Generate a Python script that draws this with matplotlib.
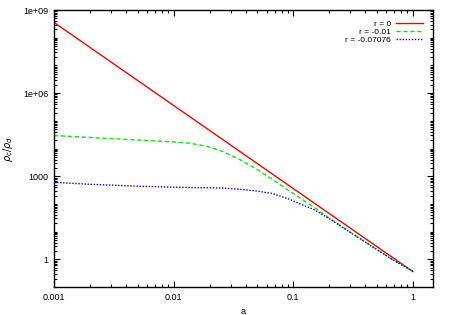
import matplotlib
matplotlib.use("Agg")
import matplotlib.pyplot as plt
from matplotlib.ticker import LogLocator, FixedLocator, NullFormatter, FixedFormatter
import numpy as np

plt.rcParams['font.family'] = ['Liberation Sans', 'DejaVu Sans']

# Data
a_red = [0.001, 0.01, 0.1, 1.0]
rho_red = [3.6e8, 3.6e5, 360.0, 0.36]

a_grid = [0.001, 0.002, 0.005, 0.01, 0.0136, 0.0187, 0.0258, 0.0355, 0.0489,
          0.0672, 0.0927, 0.112, 0.15, 0.2, 0.3, 0.5, 0.7, 1.0]
log_green = [4.47, 4.40, 4.31, 4.24, 4.193, 4.09, 3.89, 3.61, 3.27,
             2.881, 2.469, 2.24, 1.87, 1.49, 0.98, 0.35, -0.05, -0.43]
log_blue = [2.78, 2.71, 2.64, 2.605, 2.592, 2.585, 2.572, 2.531, 2.469,
            2.375, 2.17, 2.014, 1.79, 1.47, 0.97, 0.35, -0.05, -0.43]
rho_green = [10 ** v for v in log_green]
rho_blue = [10 ** v for v in log_blue]

labels = ["r = 0", "r = -0.01", "r = -0.07076"]
xticks = [0.001, 0.01, 0.1, 1]
xticklabels = ["0.001", "0.01", "0.1", "1"]
yticks = [1, 1e3, 1e6, 1e9]
yticklabels = ["1", "1000", "1e+06", "1e+09"]

fig = plt.figure(figsize=(4.5, 3.15), dpi=100)
ax = fig.add_axes([0.12, 0.0889, 0.842, 0.879])

ax.plot(a_red, rho_red, color='#ff0000', lw=1.0, label=labels[0])
ax.plot(a_grid, rho_green, color='#00ee00', lw=1.0, ls=(0, (3, 2)), label=labels[1])
ax.plot(a_grid, rho_blue, color='#0000ff', lw=1.0, ls=(0, (1, 1.2)), label=labels[2])

ax.set_xscale('log')
ax.set_yscale('log')
ax.set_xlim(0.001, 1.47)
ax.set_ylim(0.1, 1e9)

ax.xaxis.set_major_locator(FixedLocator(xticks))
ax.xaxis.set_major_formatter(FixedFormatter(xticklabels))
ax.xaxis.set_minor_locator(LogLocator(base=10, subs=np.arange(2, 10)))
ax.xaxis.set_minor_formatter(NullFormatter())
ax.yaxis.set_major_locator(FixedLocator(yticks))
ax.yaxis.set_major_formatter(FixedFormatter(yticklabels))
ax.yaxis.set_minor_locator(LogLocator(base=10, subs=np.arange(1, 10), numticks=30))
ax.yaxis.set_minor_formatter(NullFormatter())

ax.tick_params(which='both', direction='in', top=True, right=True, labelsize=6.5,
               width=0.8, color='black', pad=4)
ax.tick_params(which='major', length=4)
ax.tick_params(which='minor', length=2)
for s in ax.spines.values():
    s.set_linewidth(1.0)

ax.set_xlabel('a', fontsize=6.5, labelpad=4)
ax.set_ylabel(r'$\rho_c/\rho_d$', fontsize=7, labelpad=6)

leg = ax.legend(loc='upper right', frameon=False, markerfirst=False, fontsize=6,
                handlelength=3.2, handletextpad=0.6, labelspacing=0.0,
                borderaxespad=0.8)

fig.savefig('out.png', dpi=100)
